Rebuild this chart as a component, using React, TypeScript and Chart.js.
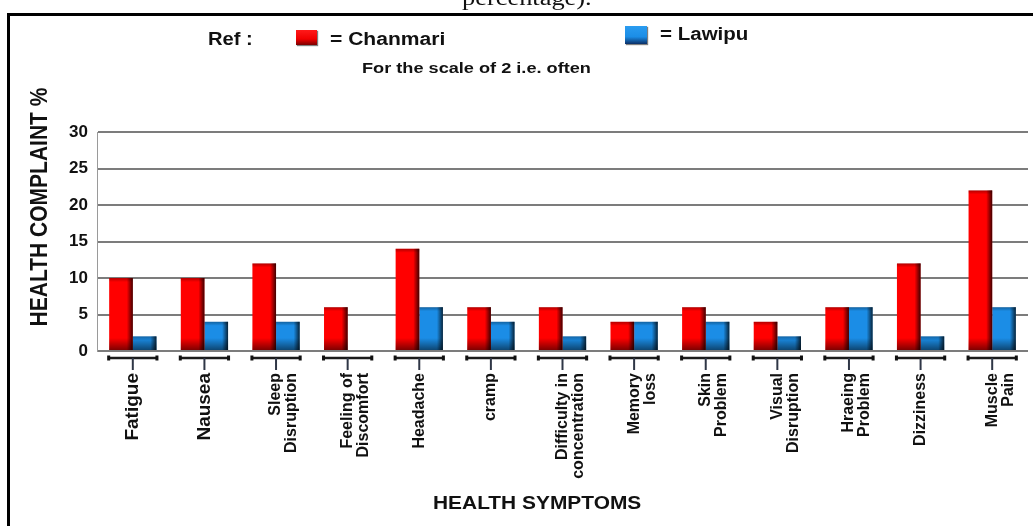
import React, { useEffect, useRef } from "react";
import { Chart, registerables } from "chart.js";

Chart.register(...registerables);

// ---- data ----
const categories: (string | string[])[] = [
  "Fatigue",
  "Nausea",
  ["Sleep", "Disruption"],
  ["Feeling of", "Discomfort"],
  "Headache",
  "cramp",
  ["Difficulty in", "concentration"],
  ["Memory", "loss"],
  ["Skin", "Problem"],
  ["Visual", "Disruption"],
  ["Hraeing", "Problem"],
  "Dizziness",
  ["Muscle", "Pain"],
];
const chanmari = [10, 10, 12, 6, 14, 6, 6, 4, 6, 4, 6, 12, 22];
const lawipu = [2, 4, 4, 0, 6, 4, 2, 4, 4, 2, 6, 2, 6];
const yTicks = [0, 5, 10, 15, 20, 25, 30];
const seriesNames = ["Chanmari", "Lawipu"];

const FONT = "'Liberation Sans', Arial, Helvetica, sans-serif";
const SERIF = "'Liberation Serif', 'Times New Roman', serif";

const barShade = {
  id: "barShade",
  afterDatasetsDraw(chart: any) {
    const ctx = chart.ctx;
    chart.data.datasets.forEach((_: any, di: number) => {
      const meta = chart.getDatasetMeta(di);
      meta.data.forEach((el: any) => {
        const { x, y, base, width } = el.getProps(["x", "y", "base", "width"], true);
        const left = x - width / 2;
        const right = x + width / 2;
        const top = Math.min(y, base);
        const bottom = Math.max(y, base);
        const h = bottom - top;
        if (h < 0.5) return;
        ctx.save();
        const g1 = ctx.createLinearGradient(right - 6, 0, right, 0);
        g1.addColorStop(0, "rgba(0,0,0,0)");
        g1.addColorStop(1, "rgba(0,0,0,0.75)");
        ctx.fillStyle = g1;
        ctx.fillRect(right - 6, top, 6, h);
        const bh = Math.min(12, h);
        const g2 = ctx.createLinearGradient(0, bottom - bh, 0, bottom);
        g2.addColorStop(0, "rgba(0,0,0,0)");
        g2.addColorStop(1, "rgba(0,0,0,0.5)");
        ctx.fillStyle = g2;
        ctx.fillRect(left, bottom - bh, width, bh);
        const th = Math.min(4, h);
        const g3 = ctx.createLinearGradient(0, top, 0, top + th);
        g3.addColorStop(0, "rgba(0,0,0,0.3)");
        g3.addColorStop(1, "rgba(0,0,0,0)");
        ctx.fillStyle = g3;
        ctx.fillRect(left, top, width, th);
        ctx.restore();
      });
    });
  },
};

const brackets = {
  id: "brackets",
  afterDraw(chart: any) {
    const { ctx, chartArea } = chart;
    const m0 = chart.getDatasetMeta(0);
    const m1 = chart.getDatasetMeta(1);
    const yb = chartArea.bottom;
    m0.data.forEach((a: any, i: number) => {
      const b = m1.data[i];
      const left = a.x - a.width / 2 - 1;
      const right = b.x + b.width / 2 + 1;
      const cx = chart.scales.x.getPixelForValue(i);
      ctx.save();
      ctx.strokeStyle = "#1b1b1b";
      ctx.lineWidth = 2.5;
      ctx.beginPath();
      ctx.moveTo(left, yb + 7);
      ctx.lineTo(right, yb + 7);
      ctx.stroke();
      ctx.fillStyle = "#111";
      ctx.fillRect(left - 1, yb + 4.5, 3, 5);
      ctx.fillRect(right - 2, yb + 4.5, 3, 5);
      ctx.strokeStyle = "#2f3646";
      ctx.lineWidth = 2;
      ctx.beginPath();
      ctx.moveTo(cx, yb + 7);
      ctx.lineTo(cx, yb + 19);
      ctx.stroke();
      ctx.restore();
    });
  },
};

function Txt(props: { left: number; top: number; size: number; sx?: number; children: any; family?: string; weight?: string }) {
  return (
    <div
      style={{
        position: "absolute",
        left: props.left,
        top: props.top,
        fontFamily: props.family || FONT,
        fontWeight: (props.weight || "bold") as any,
        fontSize: props.size,
        lineHeight: props.size + "px",
        whiteSpace: "nowrap",
        color: "#111",
        transform: `scaleX(${props.sx ?? 1})`,
        transformOrigin: "left center",
      }}
    >
      {props.children}
    </div>
  );
}

export default function App() {
  const ref = useRef<HTMLCanvasElement | null>(null);

  useEffect(() => {
    if (!ref.current) return;
    const chart = new Chart(ref.current, {
      type: "bar",
      data: {
        labels: categories as any,
        datasets: [
          { label: seriesNames[0], data: chanmari, backgroundColor: "#ff0000", borderWidth: 0 },
          { label: seriesNames[1], data: lawipu, backgroundColor: "#1b8de6", borderWidth: 0 },
        ],
      },
      options: {
        responsive: false,
        animation: false,
        devicePixelRatio: 1,
        layout: { padding: { left: 10, top: 132, right: 5, bottom: 0 } },
        plugins: {
          legend: { display: false },
          tooltip: { enabled: false },
          title: { display: false },
        },
        datasets: { bar: { barPercentage: 1, categoryPercentage: 0.66 } },
        scales: {
          x: {
            grid: { display: false, drawTicks: false },
            border: { display: false },
            ticks: {
              autoSkip: false,
              maxRotation: 90,
              minRotation: 90,
              padding: 22,
              color: "#111",
              font: (c: any) => ({
                family: FONT,
                weight: "bold",
                size: c.index < 2 ? 19 : 16,
                lineHeight: 1.0,
              }),
            },
            afterFit: (s: any) => {
              s.height = 175;
              s.paddingLeft = 0;
              s.paddingRight = 0;
            },
          },
          y: {
            min: 0,
            max: 30,
            afterBuildTicks: (s: any) => {
              s.ticks = yTicks.map((v) => ({ value: v }));
            },
            grid: { color: "#7c7c7c", lineWidth: 2, drawTicks: false },
            border: { display: true, color: "#9a9a9a", width: 1 },
            ticks: {
              padding: 9,
              color: "#111",
              font: { family: FONT, weight: "bold", size: 17 },
            },
            afterFit: (s: any) => {
              s.width = 87;
            },
          },
        },
      } as any,
      plugins: [barShade, brackets],
    });
    return () => chart.destroy();
  }, []);

  return (
    <div
      style={{
        position: "fixed",
        left: 0,
        top: 0,
        width: 1033,
        height: 526,
        background: "#fff",
        overflow: "hidden",
      }}
    >
      <canvas ref={ref} width={1033} height={526} style={{ position: "absolute", left: 0, top: 0 }} />
      <div
        style={{
          position: "absolute",
          left: 7,
          top: 13,
          width: 1026,
          height: 520,
          boxSizing: "border-box",
          borderTop: "3px solid #000",
          borderLeft: "3px solid #000",
          pointerEvents: "none",
        }}
      />
      <Txt left={462} top={-12} size={20} sx={1.32} family={SERIF} weight="normal">
        percentage).
      </Txt>
      <Txt left={208} top={30} size={18} sx={1.12}>
        Ref :
      </Txt>
      <div
        style={{
          position: "absolute",
          left: 296,
          top: 30,
          width: 21,
          height: 15,
          background: "linear-gradient(to bottom, #ff1a1a 0%, #f00000 60%, #7a0000 100%)",
          boxShadow: "1px 1px 1px rgba(0,0,0,0.5)",
        }}
      />
      <Txt left={330} top={30} size={18} sx={1.17}>
        = {seriesNames[0]}
      </Txt>
      <div
        style={{
          position: "absolute",
          left: 625,
          top: 26,
          width: 22,
          height: 18,
          background: "linear-gradient(to bottom, #2a9cf0 0%, #1b8de6 60%, #0b2f66 100%)",
          boxShadow: "1px 1px 1px rgba(0,0,0,0.5)",
        }}
      />
      <Txt left={660} top={25} size={18} sx={1.14}>
        = {seriesNames[1]}
      </Txt>
      <Txt left={362} top={60} size={15} sx={1.21}>
        For the scale of 2 i.e. often
      </Txt>
      <div
        style={{
          position: "absolute",
          left: 38.5,
          top: 207,
          transform: "translate(-50%, -50%) rotate(-90deg) scaleY(1.1)",
          fontFamily: FONT,
          fontWeight: "bold",
          fontSize: 21,
          lineHeight: "21px",
          whiteSpace: "nowrap",
          color: "#111",
        }}
      >
        HEALTH COMPLAINT %
      </div>
      <Txt left={433} top={493} size={19} sx={1.1}>
        HEALTH SYMPTOMS
      </Txt>
    </div>
  );
}
